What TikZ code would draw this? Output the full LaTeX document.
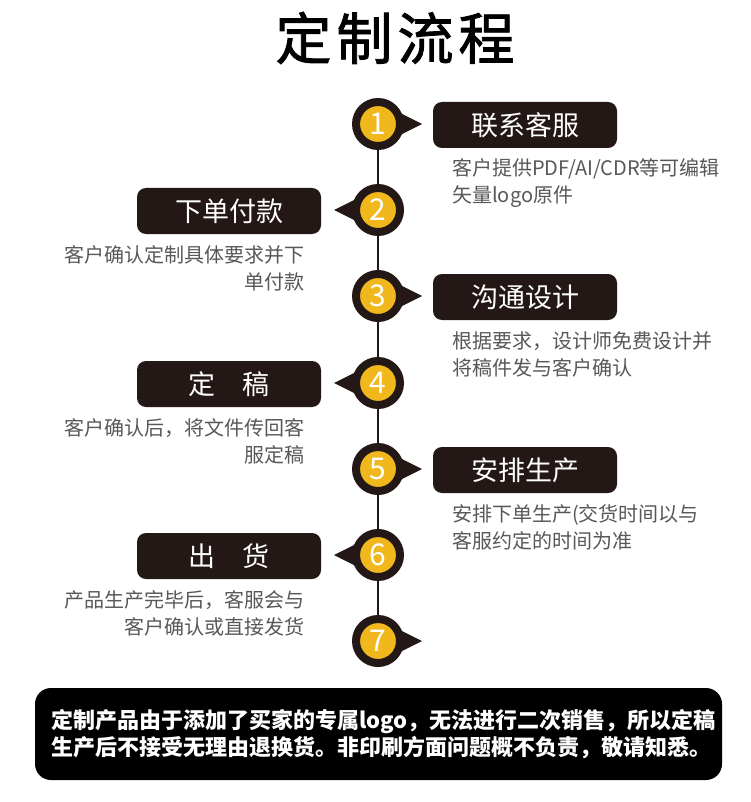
\documentclass[tikz,border=0pt]{standalone}
\usepackage{fontspec}
\setmainfont{Noto Sans CJK SC}
\newfontfamily\headfont[FakeBold=1.6]{Noto Sans CJK SC}
\usepackage{xcolor,tikz}
\definecolor{ink}{HTML}{231815}
\definecolor{gold}{HTML}{F0B81C}
\definecolor{grey}{HTML}{595757}
\tikzset{
  pin/.style={circle,fill=gold,draw=ink,line width=8pt,minimum size=44pt,inner sep=0pt,text=white,font=\fontsize{30pt}{32pt}\selectfont},
  tag/.style={fill=ink,rounded corners=9pt,minimum width=184pt,minimum height=46pt,inner sep=0pt,text=white,font=\fontsize{27pt}{30pt}\selectfont},
  noteR/.style={anchor=base west,align=left,inner sep=0pt,text=grey,font=\fontsize{20pt}{27pt}\selectfont},
  noteL/.style={anchor=base east,align=right,inner sep=0pt,text=grey,font=\fontsize{20pt}{27pt}\selectfont},
  stem/.style={draw=ink,line width=2pt}
}
\newcommand{\pointer}[2]{\fill[ink] ({378+14*#2},{#1-15}) -- ({378+44*#2},#1) -- ({378+14*#2},{#1+15}) -- cycle;}
\newcommand{\stage}[6]{\pointer{#2}{#3}
\node[pin] (c#1) at (378,#2) {#1};
\node[tag] (t#1) at ({377+148*#3},{#2+1}) {#4};
\node[#5] (n#1) at ({378.5+73.5*#3},{#2+79}) {#6};}

\begin{document}
\begin{tikzpicture}[x=1pt,y=-1pt]
\useasboundingbox[fill=white] (0,0) rectangle (750,802);
\node[font=\fontsize{56pt}{60pt}\headfont] (title) at (395,38) {定\hspace{5pt}制\hspace{5pt}流\hspace{5pt}程};
\stage{1}{124}{1}{联系客服}{noteR}{客户提供PDF/AI/CDR等可编辑\\矢量logo原件}
\stage{2}{210}{-1}{下单付款}{noteL}{客户确认定制具体要求并下\\单付款}
\stage{3}{296}{1}{沟通设计}{noteR}{根据要求，设计师免费设计并\\将稿件发与客户确认}
\stage{4}{383}{-1}{定　稿}{noteL}{客户确认后，将文件传回客\\服定稿}
\stage{5}{469}{1}{安排生产}{noteR}{安排下单生产(交货时间以与\\客服约定的时间为准}
\stage{6}{555}{-1}{出　货}{noteL}{产品生产完毕后，客服会与\\客户确认或直接发货}
\pointer{641}{1}
\node[pin] (c7) at (378,641) {7};
\draw[stem] (c1) -- (c2) (c2) -- (c3) (c3) -- (c4) (c4) -- (c5) (c5) -- (c6) (c6) -- (c7);
\node[fill=black,rounded corners=16pt,minimum width=687pt,minimum height=92pt,text width=655pt,align=left,text=white,font=\fontsize{22pt}{27pt}\selectfont\bfseries] (notice) at (378.5,734) {定制产品由于添加了买家的专属logo，无法进行二次销售，所以定稿\\生产后不接受无理由退换货。非印刷方面问题概不负责，敬请知悉。};
\end{tikzpicture}
\end{document}
